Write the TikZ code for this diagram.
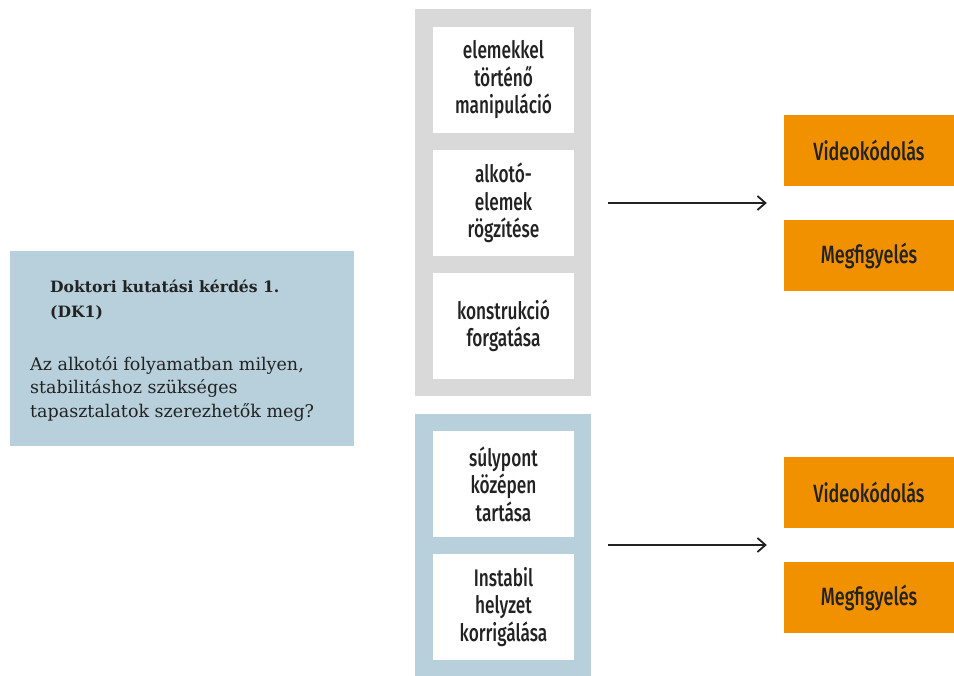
\documentclass[tikz,border=0pt]{standalone}
\usepackage{fontspec}
\usepackage{xcolor}
\usetikzlibrary{arrows.meta,calc}
\setmainfont{DejaVu Serif}
\newfontfamily\boxfont[FakeStretch=0.72]{Fira Sans Medium}
\definecolor{color_panelgrey}{HTML}{D9D9D9}
\definecolor{color_panelblue}{HTML}{B7D0DB}
\definecolor{color_orange}{HTML}{F29100}
\definecolor{color_text}{HTML}{222222}

\begin{document}
\begin{tikzpicture}[x=1pt,y=-1pt,
    panel/.style={minimum width=176pt,inner sep=0pt},
    stepbox/.style={fill=white,minimum width=141pt,minimum height=106pt,inner sep=0pt,
      align=center,font=\boxfont\fontsize{24}{27.5}\selectfont,text=color_text},
    methodbox/.style={fill=color_orange,minimum width=170pt,minimum height=71pt,inner sep=0pt,
      font=\boxfont\fontsize{25}{28}\selectfont,text=color_text},
    flow/.style={-{Straight Barb[length=8pt,width=14pt]},line width=1.8pt,color=color_text}]
  \useasboundingbox (0,0) rectangle (954,676);

  % Kérdés
  \fill[color_panelblue] (10,251) rectangle (354,446);
  \node[anchor=north west,align=left,inner sep=0pt,text=color_text,
        font=\bfseries\fontsize{15.6}{25}\selectfont] (title) at (50,280)
    {Doktori kutatási kérdés 1.\\(DK1)};
  \node[anchor=north west,align=left,inner sep=0pt,text=color_text,
        font=\fontsize{17.5}{23.5}\selectfont] (question) at (30,356)
    {Az alkotói folyamatban milyen,\\stabilitáshoz szükséges\\tapasztalatok szerezhetők meg?};

  % Paneles
  \node[panel,fill=color_panelgrey,minimum height=387pt] (grey) at (503,203) {};
  \node[panel,fill=color_panelblue,minimum height=262pt] (blue) at (503,545) {};

  \node[stepbox] (s1) at (503.5,80) {elemekkel\\történő\\manipuláció};
  \node[stepbox] (s2) at (503.5,203) {alkotó-\\elemek\\rögzítése};
  \node[stepbox] (s3) at (503.5,326) {konstrukció\\forgatása};
  \node[stepbox] (s4) at (503.5,484) {súlypont\\középen\\tartása};
  \node[stepbox] (s5) at (503.5,607) {Instabil\\helyzet\\korrigálása};

  % Módszerek
  \node[methodbox] (vid1) at (869,150.5) {Videokódolás};
  \node[methodbox] (meg1) at (869,255.5) {Megfigyelés};
  \node[methodbox] (vid2) at (869,492.5) {Videokódolás};
  \node[methodbox] (meg2) at (869,597.5) {Megfigyelés};

  \coordinate (gap1) at ($(vid1.south west)!0.5!(meg1.north west)+(-17,0)$);
  \coordinate (gap2) at ($(vid2.south west)!0.5!(meg2.north west)+(-17,0)$);
  \draw[flow] ([xshift=17pt]grey.east) -- (gap1);
  \draw[flow] ([xshift=17pt]blue.east) -- (gap2);
\end{tikzpicture}
\end{document}
